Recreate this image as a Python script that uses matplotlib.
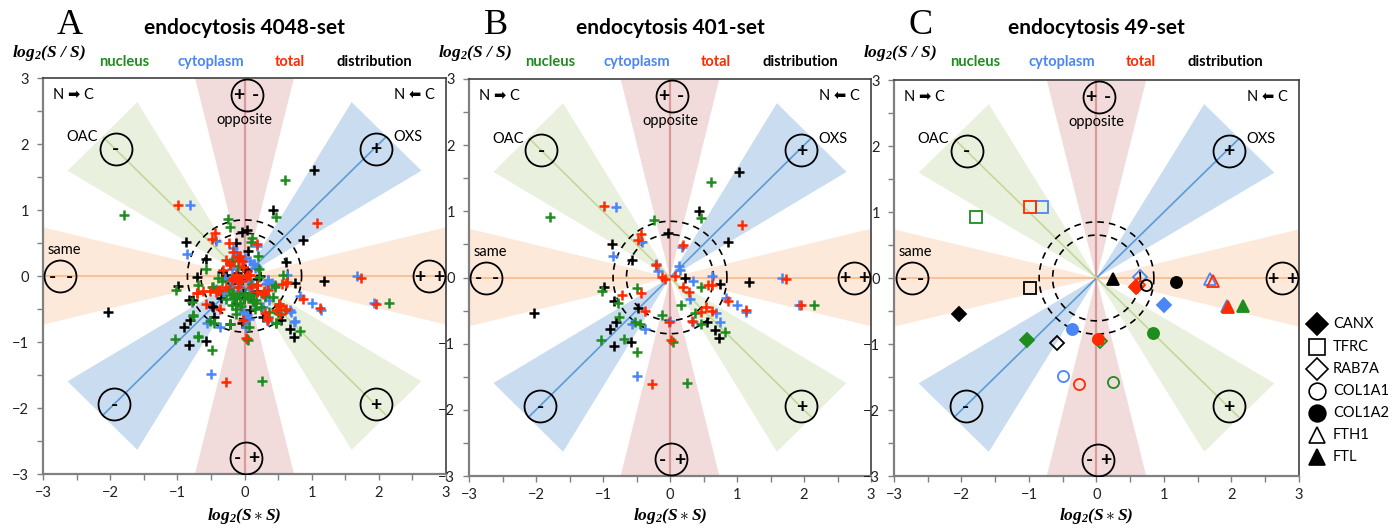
import numpy as np
import matplotlib
matplotlib.use("Agg")
import matplotlib.pyplot as plt
from matplotlib.patches import Polygon

plt.rcParams['mathtext.fontset'] = 'custom'
plt.rcParams['mathtext.rm'] = 'Liberation Serif:style=italic:weight=bold'
plt.rcParams['mathtext.it'] = 'Liberation Serif:style=italic:weight=bold'
plt.rcParams['mathtext.bf'] = 'Liberation Serif:style=italic:weight=bold'

# ---------------- data ----------------
panel_titles = ["endocytosis 4048-set", "endocytosis 401-set", "endocytosis 49-set"]
panel_letters = ["A", "B", "C"]
compartments = ["nucleus", "cytoplasm", "total", "distribution"]
comp_colors = ["#1e8c1e", "#4a86f5", "#ff2a00", "#000000"]
tick_vals = [-3, -2, -1, 0, 1, 2, 3]

# 401-set (panel B) crosses
b_nuc_x = [0.61, 0.47, -0.24, -1.79, -1.02, -0.49, -0.78, -0.76, -1.03, -0.69, -0.49,
           -0.52, -0.45, -0.12, 0.05, 0.26, 0.17, 0.37, 0.46, 0.47, 0.82, 2.15]
b_nuc_y = [1.45, 0.90, 0.87, 0.92, -0.21, -0.16, -0.39, -0.59, -0.95, -0.93, -1.12,
           -0.68, -0.71, -0.57, -0.97, -1.59, -0.41, -0.54, -0.14, -0.71, -0.83, -0.41]
b_cyt_x = [-0.81, -0.85, -0.42, 0.18, -0.21, -0.18, 0.13, 0.15, 0.35, 0.63, 0.30, 0.83,
           1.00, 1.14, 0.69, 0.75, 0.35, 0.00, -0.56, -0.37, -0.50, 1.67, 1.93]
b_cyt_y = [1.07, 0.33, 0.53, 0.46, 0.20, 0.10, 0.18, 0.12, -0.06, 0.02, -0.32, -0.31,
           -0.41, -0.52, -0.54, -0.68, -0.68, -0.66, -0.71, -0.78, -1.49, 0.00, -0.41]
b_tot_x = [-0.99, 1.08, -0.44, -0.48, 0.19, -0.12, -0.08, 0.08, 0.19, -0.43, -0.71, -0.37,
           0.29, 0.47, 0.53, 0.62, 0.56, 0.62, 0.87, 1.13, 1.73, 1.96, -0.02, 0.02, -0.27,
           0.33, -0.21]
b_tot_y = [1.08, 0.80, 0.65, 0.56, 0.49, 0.01, -0.03, 0.02, -0.14, -0.24, -0.26, -0.50,
           -0.22, -0.52, -0.45, -0.50, -0.12, -0.11, -0.35, -0.49, -0.03, -0.42, -0.67,
           -0.94, -1.61, -0.66, 0.19]
b_dist_x = [1.03, 0.43, 0.87, -0.03, -0.87, -0.57, -0.99, 0.23, 0.75, 1.18, -2.03, -0.83,
            -0.48, -0.81, -0.90, -0.83, -0.58, 0.55, 0.67, 0.73]
b_dist_y = [1.60, 1.00, 0.54, 0.67, 0.51, 0.26, -0.15, 0.00, -0.10, -0.07, -0.54, -0.36,
            -0.46, -0.67, -0.78, -1.04, -0.98, -0.67, -0.80, -0.92]

# additional points of the 4048-set (panel A = 401-set + these)
a_nuc_x = [-0.21, 0.11, 0.09, -0.19, 0.22, -0.57, -0.39, -0.33, 0.22, 0.58, -0.69, -0.47,
           -0.40, -0.23, -0.18, -0.15, -0.08, -0.01, 0.07, 0.13, 0.17, 0.45, 0.43, 0.51,
           0.50, 0.60, -0.77, -0.69, -0.22, 0.03, 0.07, 0.47, -0.17, -0.12, -0.19, -0.07,
           0.05, 0.10, 0.25, -0.05, 0.00, -0.12, 0.15, 0.10, -0.28, 0.30, 0.20, -0.10]
a_nuc_y = [0.75, 0.58, 0.52, 0.22, 0.11, 0.11, -0.03, -0.07, -0.02, 0.01, -0.14, -0.17,
           -0.22, -0.19, -0.29, -0.34, -0.29, -0.35, -0.32, -0.39, -0.37, -0.16, -0.32, -0.43,
           -0.56, -0.52, -0.61, -0.91, -0.72, -0.95, -0.77, -0.71, -0.26, -0.34, -0.44, -0.41,
           -0.34, -0.29, -0.47, -0.45, -0.25, -0.50, -0.50, -0.12, -0.35, -0.30, 0.30, 0.15]
a_cyt_x = [-0.13, -0.15, 0.01, 0.14, 0.19, -0.29, -0.22, -0.05, 0.07, 0.35, 0.32, -0.42,
           -0.11, -0.06, 0.06, 0.35, 0.30, 0.37, 0.27, 0.67, 0.73, 0.06, 0.02, -0.17, -0.12,
           0.08, 0.33, 0.41, -0.02, 0.03, 0.35, -0.19, -0.32]
a_cyt_y = [0.37, 0.24, 0.28, 0.18, 0.13, -0.03, -0.06, -0.07, -0.07, -0.06, -0.12, -0.19,
           -0.22, -0.16, -0.19, -0.19, -0.29, -0.37, -0.47, -0.51, -0.69, -0.65, -0.78, 0.42,
           0.32, 0.22, -0.11, -0.11, -0.54, -0.59, -0.62, -0.16, -0.24]
a_tot_x = [-0.23, -0.27, -0.07, -0.08, -0.17, -0.11, -0.07, 0.02, 0.07, 0.63, -0.70, -0.62,
           -0.51, -0.36, -0.27, -0.10, 0.10, 0.19, 0.27, 0.52, 0.53, 0.30, -0.58, 0.35,
           -0.17, -0.09, -0.04, -0.02, -0.22, 0.03, -0.32, -0.19, -0.09, -0.39, 0.35]
a_tot_y = [0.50, 0.24, 0.30, 0.24, -0.03, -0.05, -0.07, -0.01, 0.01, -0.09, -0.26, -0.22,
           -0.23, -0.21, -0.16, -0.17, -0.16, -0.24, -0.27, -0.43, -0.58, -0.56, -0.43, -0.63,
           0.37, 0.29, 0.22, 0.14, 0.17, 0.02, 0.09, -0.06, -0.09, -0.21, -0.21]
a_dist_x = [0.03, -0.13, 0.05, 0.62, -0.33, -0.27, -0.11, 0.03, -0.76, -0.47, -0.35, -0.15,
            -0.01, 0.12, 0.18, -0.12, 0.08, 0.27, -0.22, -0.03, -0.45, -0.04, -0.02, 0.18,
            -0.71, 0.00, -0.20, 0.10]
a_dist_y = [0.69, 0.50, 0.38, 0.21, 0.06, 0.01, 0.05, 0.08, -0.37, -0.47, -0.34, -0.34,
            -0.34, -0.37, -0.22, -0.42, -0.51, -0.62, -0.73, -0.71, -0.62, -0.06, -0.26, -0.04,
            -0.01, 0.10, -0.10, -0.25]

# 49-set (panel C): one value per gene and compartment (nan = not shown)
genes = ["CANX", "TFRC", "RAB7A", "COL1A1", "COL1A2", "FTH1", "FTL"]
gene_markers = ["D", "s", "D", "o", "o", "^", "^"]
gene_filled = [True, False, False, False, True, False, True]
nan = np.nan
c_nuc_x = [-1.03, -1.79, 0.05, 0.25, 0.83, nan, 2.17]
c_nuc_y = [-0.94, 0.92, -0.96, -1.58, -0.83, nan, -0.42]
c_cyt_x = [1.00, -0.80, 0.64, -0.49, -0.36, 1.68, 1.93]
c_cyt_y = [-0.41, 1.07, 0.02, -1.48, -0.77, -0.01, -0.42]
c_tot_x = [0.58, -0.98, 0.62, -0.26, 0.02, 1.73, 1.95]
c_tot_y = [-0.14, 1.07, -0.10, -1.61, -0.92, -0.04, -0.44]
c_dist_x = [-2.03, -0.98, -0.58, 0.74, 1.18, nan, 0.24]
c_dist_y = [-0.55, -0.15, -0.98, -0.10, -0.06, nan, -0.01]

# ---------------- figure ----------------
W, H = 1399, 532
fig = plt.figure(figsize=(W / 100, H / 100), dpi=100)
SANS = ['Lato', 'DejaVu Sans']

panel_px = [(43, 446, 78, 474), (469, 871, 79, 476), (894, 1299, 80, 476)]
axes = []
for (l, r, t, b) in panel_px:
    ax = fig.add_axes([l / W, (H - b) / H, (r - l) / W, (b - t) / H])
    axes.append(ax)


def decorate(ax):
    ax.set_xlim(-3, 3)
    ax.set_ylim(-3, 3)
    half = np.deg2rad(13.8)
    R = 3.08
    wedge_cols = {0: '#fde9d9', 90: '#f2dcdb', 45: '#c9dcf0', 135: '#eaf0de'}
    for base, col in wedge_cols.items():
        for a in (base, base + 180):
            t = np.deg2rad(a)
            pts = [(0, 0), (R * np.cos(t - half), R * np.sin(t - half)),
                   (R * np.cos(t + half), R * np.sin(t + half))]
            ax.add_patch(Polygon(pts, closed=True, fc=col, ec='none', zorder=0))
    ax.plot([-3, 3], [0, 0], color='#f7b98a', lw=1.2, zorder=1)
    ax.plot([0, 0], [-3, 3], color='#d99a9a', lw=1.6, zorder=1)
    ax.plot([-2.1, 2.1], [-2.1, 2.1], color='#5b9bd5', lw=1.2, zorder=1)
    ax.plot([-2.1, 2.1], [2.1, -2.1], color='#c4d79b', lw=1.2, zorder=1)
    th = np.linspace(0, 2 * np.pi, 300)
    for rr in (0.85, 0.65):
        ax.plot(rr * np.cos(th), rr * np.sin(th), color='k', lw=1.2,
                dashes=(4, 3), zorder=2)
    circ = [(0.03, 2.75), (0.02, -2.75), (2.75, 0), (-2.74, 0),
            (1.96, 1.93), (-1.92, 1.93), (-1.94, -1.94), (1.96, -1.94)]
    cx = [c[0] for c in circ]
    cy = [c[1] for c in circ]
    ax.plot(cx, cy, 'o', ms=23, mfc='none', mec='k', mew=1.3, zorder=6)
    signs = [(-0.09, 2.75, '+'), (0.16, 2.75, '-'), (-0.11, -2.75, '-'), (0.14, -2.75, '+'),
             (2.61, 0, '+'), (2.89, 0, '+'), (-2.86, 0, '-'), (-2.61, 0, '-'),
             (1.96, 1.93, '+'), (-1.92, 1.93, '-'), (-1.94, -1.94, '-'), (1.96, -1.94, '+')]
    for sx, sy, s in signs:
        ax.text(sx, sy - 0.02, s, ha='center', va='center', fontsize=14, fontweight='bold',
                family=SANS, zorder=7)
    ax.text(0, 2.37, 'opposite', ha='center', va='center', fontsize=10.5, family=SANS, zorder=7)
    ax.text(-2.42, 2.1, 'OAC', ha='center', va='center', fontsize=10.5, family=SANS, zorder=7)
    ax.text(2.43, 2.1, 'OXS', ha='center', va='center', fontsize=10.5, family=SANS, zorder=7)
    ax.text(-2.68, 0.39, 'same', ha='center', va='center', fontsize=10.5, family=SANS, zorder=7)
    ax.text(-2.55, 2.74, 'N \u27a1 C', ha='center', va='center', fontsize=10.5,
            family=SANS, zorder=7)
    ax.text(2.53, 2.74, 'N \u2b05 C', ha='center', va='center', fontsize=10.5,
            family=SANS, zorder=7)
    ax.set_xticks(tick_vals)
    ax.set_yticks(tick_vals)
    ax.set_xticks(np.arange(-3, 3.01, 0.5), minor=True)
    ax.set_yticks(np.arange(-3, 3.01, 0.5), minor=True)
    ax.tick_params(which='both', direction='out', length=4, width=1, color='#808080')
    ax.tick_params(axis='x', pad=4.5)
    ax.tick_params(axis='y', pad=6)
    for lab in ax.get_xticklabels() + ax.get_yticklabels():
        lab.set_family(SANS)
        lab.set_fontsize(10.5)
        lab.set_color('#222222')
    for side in ('left', 'bottom'):
        ax.spines[side].set_color('#808080')
        ax.spines[side].set_linewidth(1.6)
    for side in ('top', 'right'):
        ax.spines[side].set_color('#404040')
        ax.spines[side].set_linewidth(1.2)


for ax in axes:
    decorate(ax)

b_sets = [(b_nuc_x, b_nuc_y), (b_cyt_x, b_cyt_y), (b_tot_x, b_tot_y), (b_dist_x, b_dist_y)]
a_sets = [(a_nuc_x, a_nuc_y), (a_cyt_x, a_cyt_y), (a_tot_x, a_tot_y), (a_dist_x, a_dist_y)]
draw_order = [3, 1, 0, 2]   # distribution at the bottom, total on top

# Panel A: 401-set + extra
for k in draw_order:
    bx, by = b_sets[k]
    ex, ey = a_sets[k]
    axes[0].plot(list(bx) + list(ex), list(by) + list(ey), '+', color=comp_colors[k],
                 ms=7.5, mew=1.8, zorder=4)
# Panel B
for k in draw_order:
    bx, by = b_sets[k]
    axes[1].plot(bx, by, '+', color=comp_colors[k], ms=7.5, mew=1.8, zorder=4)

# Panel C
c_sets = [(c_nuc_x, c_nuc_y), (c_cyt_x, c_cyt_y), (c_tot_x, c_tot_y), (c_dist_x, c_dist_y)]
msize = {"D": 7, "s": 8, "o": 8, "^": 8}
for (cxs, cys), col in zip(c_sets, comp_colors):
    for gi, g in enumerate(genes):
        m = gene_markers[gi]
        axes[2].plot([cxs[gi]], [cys[gi]], m, ms=msize[m], mec=col,
                     mfc=col if gene_filled[gi] else 'none', mew=1.3, zorder=5)

# ---------------- overlay texts ----------------
ov = fig.add_axes([0, 0, 1, 1], zorder=10)
ov.set_xlim(0, W)
ov.set_ylim(H, 0)
ov.axis('off')

label_offsets = [81, 168, 247, 331]
for (l, r, t, b), title, letter in zip(panel_px, panel_titles, panel_letters):
    cxm = (l + r) / 2
    ov.text(l + 27, 25, letter, ha='center', va='center', fontsize=26,
            family='Liberation Serif')
    ov.text(cxm, 28, title, ha='center', va='center', fontsize=15, fontweight='bold',
            family=SANS)
    ov.text(l + 6, 53, r'$log_{2}(S\ /\ S)$', ha='center', va='center', fontsize=12.5)
    ov.text(cxm, 516, r'$log_{2}(S\ast S)$', ha='center', va='center', fontsize=12.5)
    for off, name, col in zip(label_offsets, compartments, comp_colors):
        ov.text(l + off, 62, name, ha='center', va='center', fontsize=10.5,
                fontweight='bold', color=col, family=SANS)

# legend for panel C
leg_rows = [324, 347, 369, 391, 413, 435, 457]
for gi, g in enumerate(genes):
    m = gene_markers[gi]
    size = 11 if m == 'D' else 12
    ov.plot([1317], [leg_rows[gi]], m, ms=size, mec='k',
            mfc='k' if gene_filled[gi] else 'white', mew=1.2)
    ov.text(1333, leg_rows[gi], g, ha='left', va='center', fontsize=10.5, family=SANS)

fig.savefig('out.png', dpi=100)
